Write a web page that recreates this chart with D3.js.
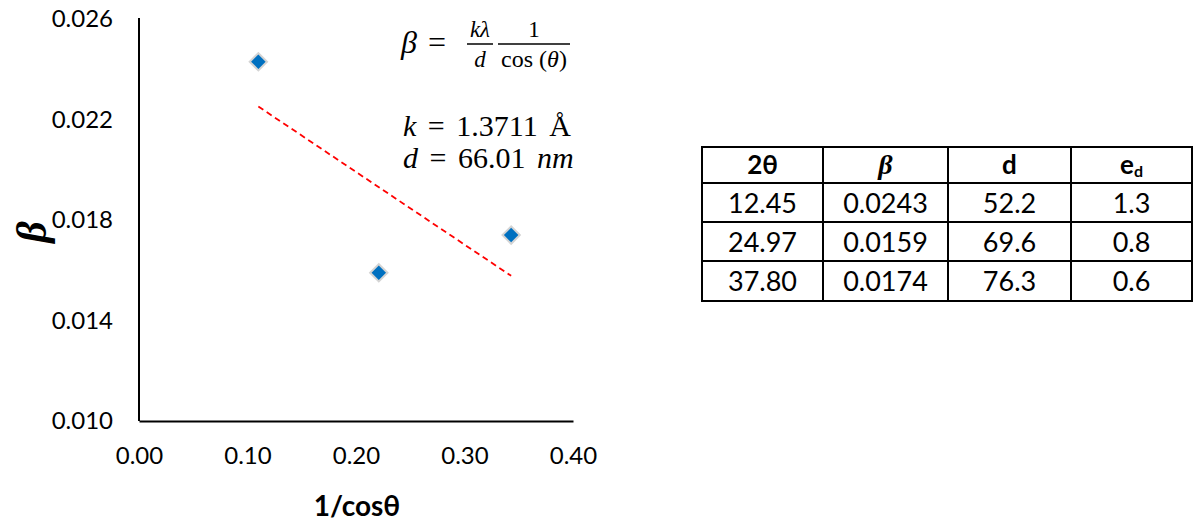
<!DOCTYPE html>
<html>
<head>
<meta charset="utf-8">
<script src="https://cdn.jsdelivr.net/npm/d3@7"></script>
<style>
  body { margin: 0; background: #fff; }
  svg { display: block; }
  .tick text { font-family: Lato, "Open Sans", sans-serif; font-size: 24px; fill: #000; }
</style>
</head>
<body>
<svg id="chart" width="1196" height="522"></svg>
<script>
// scatter data: 1/cos(theta) vs beta
const invCos = [0.11, 0.221, 0.343];
const betaVals = [0.0243, 0.0159, 0.0174];
const xTicks = [0, 0.1, 0.2, 0.3, 0.4];
const yTicks = [0.010, 0.014, 0.018, 0.022, 0.026];

// table columns
const tableHead = ['2θ', 'β', 'd', 'e'];
const twoTheta = ['12.45', '24.97', '37.80'];
const betaCol = ['0.0243', '0.0159', '0.0174'];
const dCol = ['52.2', '69.6', '76.3'];
const edCol = ['1.3', '0.8', '0.6'];

const svg = d3.select('#chart');

const plot = { left: 139, right: 573, top: 19, bottom: 421 };

const xScale = d3.scaleLinear().domain([0, 0.4]).range([plot.left, plot.right]);
const yScale = d3.scaleLinear().domain([0.010, 0.026]).range([plot.bottom, plot.top]);

// axes (no tick marks, just the line + labels)
const yAxis = d3.axisLeft(yScale)
    .tickValues(yTicks)
    .tickFormat(d3.format('.3f'))
    .tickSize(0)
    .tickPadding(26);

const xAxis = d3.axisBottom(xScale)
    .tickValues(xTicks)
    .tickFormat(d3.format('.2f'))
    .tickSize(0)
    .tickPadding(26);

svg.append('g')
    .attr('transform', `translate(${plot.left},0)`)
    .call(yAxis)
    .call(g => g.select('.domain').attr('stroke', '#000').attr('stroke-width', 2).attr('d', `M0,${plot.top - 1}V${plot.bottom}`));

svg.append('g')
    .attr('transform', `translate(0,${plot.bottom})`)
    .call(xAxis)
    .call(g => g.select('.domain').attr('stroke', '#000').attr('stroke-width', 2));

// axis titles
svg.append('text')
    .attr('x', (plot.left + plot.right) / 2 + 1)
    .attr('y', 516)
    .attr('text-anchor', 'middle')
    .style('font-family', 'Lato, "Open Sans", sans-serif')
    .style('font-size', '28px')
    .style('font-weight', 'bold')
    .text('1/cosθ');

svg.append('text')
    .attr('transform', 'translate(46,232) rotate(-90)')
    .attr('text-anchor', 'middle')
    .style('font-family', '"Liberation Serif", serif')
    .style('font-size', '42px')
    .style('font-weight', 'bold')
    .style('font-style', 'italic')
    .text('β');

// linear trendline (least squares)
const pts = invCos.map((x, i) => ({ x, y: betaVals[i] }));
const mx = d3.mean(pts, d => d.x);
const my = d3.mean(pts, d => d.y);
const slope = d3.sum(pts, d => (d.x - mx) * (d.y - my)) / d3.sum(pts, d => (d.x - mx) ** 2);
const icept = my - slope * mx;
const [x0, x1] = d3.extent(invCos);

svg.append('line')
    .attr('x1', xScale(x0)).attr('y1', yScale(icept + slope * x0))
    .attr('x2', xScale(x1)).attr('y2', yScale(icept + slope * x1))
    .attr('stroke', '#ff0000')
    .attr('stroke-width', 1.8)
    .attr('stroke-dasharray', '6,4');

// diamond markers
svg.append('g')
    .selectAll('path')
    .data(pts)
    .join('path')
    .attr('d', d3.symbol(d3.symbolSquare, 150))
    .attr('transform', d => `translate(${xScale(d.x)},${yScale(d.y)}) rotate(45)`)
    .attr('fill', '#0070c0')
    .attr('stroke', '#d4d4d4')
    .attr('stroke-width', 2);

// equation annotation
const serif = '"Liberation Serif", "DejaVu Serif", serif';
const eq = svg.append('g').style('font-family', serif).attr('fill', '#000');

eq.append('text').attr('x', 401).attr('y', 53).style('font-size', '32px').style('font-style', 'italic').text('β');
eq.append('text').attr('x', 428).attr('y', 53).style('font-size', '32px').text('=');

eq.append('text').attr('x', 480).attr('y', 37).attr('text-anchor', 'middle')
    .style('font-size', '23px').style('font-style', 'italic').text('kλ');
eq.append('line').attr('x1', 467).attr('x2', 493).attr('y1', 44).attr('y2', 44).attr('stroke', '#000').attr('stroke-width', 1.5);
eq.append('text').attr('x', 480).attr('y', 67).attr('text-anchor', 'middle')
    .style('font-size', '23px').style('font-style', 'italic').text('d');

eq.append('text').attr('x', 534).attr('y', 37).attr('text-anchor', 'middle')
    .style('font-size', '23px').text('1');
eq.append('line').attr('x1', 498).attr('x2', 570).attr('y1', 44).attr('y2', 44).attr('stroke', '#000').attr('stroke-width', 1.5);
const cosT = eq.append('text').attr('x', 534).attr('y', 67).attr('text-anchor', 'middle').style('font-size', '24px');
cosT.append('tspan').text('cos (');
cosT.append('tspan').style('font-style', 'italic').text('θ');
cosT.append('tspan').text(')');

const kLine = eq.append('text').attr('x', 403).attr('y', 136)
    .style('font-size', '30px').style('word-spacing', '4px');
kLine.append('tspan').style('font-style', 'italic').text('k');
kLine.append('tspan').text(' = 1.3711 Å');

const dLine = eq.append('text').attr('x', 403).attr('y', 168)
    .style('font-size', '30px').style('word-spacing', '4px');
dLine.append('tspan').style('font-style', 'italic').text('d');
dLine.append('tspan').text(' = 66.01 ');
dLine.append('tspan').style('font-style', 'italic').text('nm');

// table
const colX = [702, 823, 948, 1071, 1192];
const rowY = [147, 183, 222, 261, 301];
const rows = d3.range(twoTheta.length).map(i => [twoTheta[i], betaCol[i], dCol[i], edCol[i]]);

const tbl = svg.append('g');
tbl.selectAll('line.v')
    .data(colX)
    .join('line')
    .attr('class', 'v')
    .attr('x1', d => d).attr('x2', d => d)
    .attr('y1', rowY[0] - 1).attr('y2', rowY[rowY.length - 1] + 1)
    .attr('stroke', '#000').attr('stroke-width', 2);
tbl.selectAll('line.h')
    .data(rowY)
    .join('line')
    .attr('class', 'h')
    .attr('y1', d => d).attr('y2', d => d)
    .attr('x1', colX[0]).attr('x2', colX[colX.length - 1])
    .attr('stroke', '#000').attr('stroke-width', 2);

const colMid = i => (colX[i] + colX[i + 1]) / 2;
const rowMid = i => (rowY[i] + rowY[i + 1]) / 2;
const sans = 'Lato, "Open Sans", sans-serif';

tableHead.forEach((h, i) => {
    const t = tbl.append('text')
        .attr('x', colMid(i))
        .attr('y', rowMid(0) + 9)
        .attr('text-anchor', 'middle')
        .style('font-size', i === 1 ? '28px' : '26px')
        .style('font-weight', 'bold')
        .style('font-family', i === 1 ? serif : sans)
        .style('font-style', i === 1 ? 'italic' : 'normal');
    t.append('tspan').text(h);
    if (i === 3) t.append('tspan').attr('dy', 3).style('font-size', '16px').text('d');
});

rows.forEach((r, ri) => {
    tbl.selectAll(null)
        .data(r)
        .join('text')
        .attr('x', (d, ci) => colMid(ci))
        .attr('y', rowMid(ri + 1) + 10)
        .attr('text-anchor', 'middle')
        .style('font-family', sans)
        .style('font-size', '27px')
        .text(d => d);
});
</script>
</body>
</html>
